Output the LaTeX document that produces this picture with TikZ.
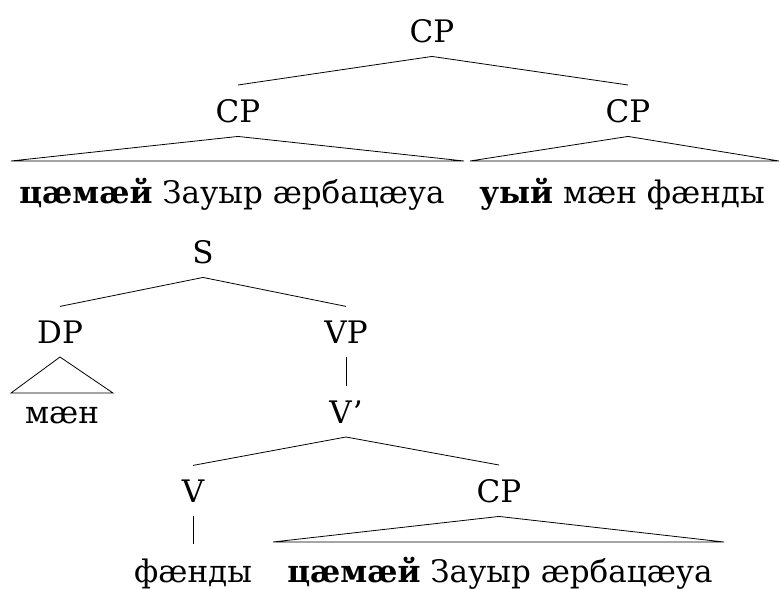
\documentclass[tikz,border=0pt]{standalone}
\usepackage{fontspec}
\setmainfont{DejaVu Serif}
\begin{document}
\begin{tikzpicture}[x=1pt,y=-1pt,
  lbl/.style={anchor=base,inner sep=0pt,outer xsep=0pt,outer ysep=14pt,font=\fontsize{31}{34}\selectfont},
  edge/.style={line width=0.8pt}]
\useasboundingbox (0,0) rectangle (780,589);
% upper tree
\node[lbl] (cp0) at (432,42) {CP};
\node[lbl] (cp1) at (238,122) {CP};
\node[lbl] (cp2) at (628,122) {CP};
\node[lbl] (t1) at (232,203) {\textbf{цæмæй} Зауыр æрбацæуа};
\node[lbl] (t2) at (622,203) {\textbf{уый} мæн фæнды};
\coordinate (b1l) at (11,161);
\coordinate (b1r) at (464,161);
\coordinate (b2l) at (470,161);
\coordinate (b2r) at (779,161);
\draw[edge] (cp1.north) -- (cp0.south) -- (cp2.north);
\draw[edge] (cp1.south) -- (b1l) -- (b1r) -- cycle;
\draw[edge] (cp2.south) -- (b2l) -- (b2r) -- cycle;
% lower tree
\node[lbl] (s) at (203,263) {S};
\node[lbl] (dp) at (60,343) {DP};
\node[lbl] (vp) at (346,343) {VP};
\node[lbl] (men) at (62,423) {мæн};
\node[lbl] (vbar) at (346,423) {V’};
\node[lbl] (v) at (193,502) {V};
\node[lbl] (cp3) at (499,502) {CP};
\node[lbl] (fend) at (193,582) {фæнды};
\node[lbl] (t3) at (500,582) {\textbf{цæмæй} Зауыр æрбацæуа};
\coordinate (b3l) at (11,393);
\coordinate (b3r) at (113,393);
\coordinate (b4l) at (273,542);
\coordinate (b4r) at (724,542);
\draw[edge] (dp.north) -- (s.south) -- (vp.north);
\draw[edge] (dp.south) -- (b3l) -- (b3r) -- cycle;
\draw[edge] (vp.south) -- (vbar.north);
\draw[edge] (v.north) -- (vbar.south) -- (cp3.north);
\draw[edge] (v.south) -- (fend.north);
\draw[edge] (cp3.south) -- (b4l) -- (b4r) -- cycle;
\end{tikzpicture}
\end{document}
